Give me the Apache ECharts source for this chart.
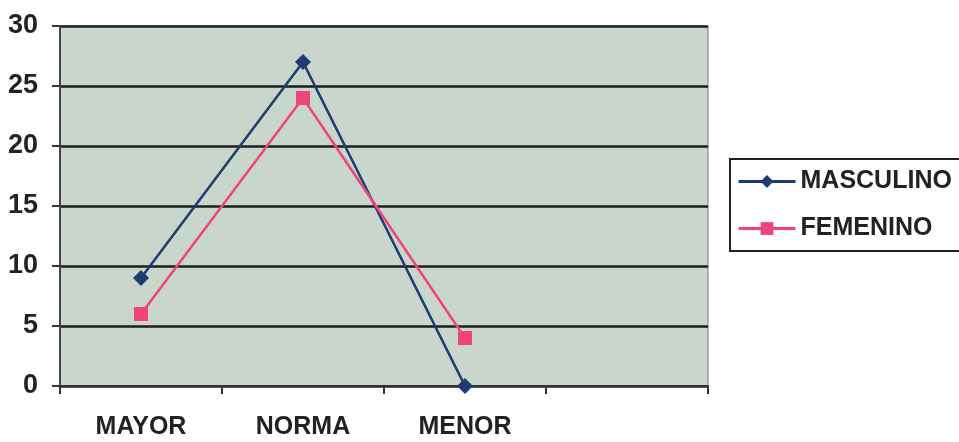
<!DOCTYPE html>
<html><head><meta charset="utf-8">
<script src="https://cdn.jsdelivr.net/npm/echarts@6/dist/echarts.min.js"></script>
<style>html,body{margin:0;padding:0;background:#fff}#c{width:959px;height:442px}</style>
</head><body><div id="c"></div>
<script>
const categories = ['MAYOR', 'NORMA', 'MENOR', ''];
const masculino = [9, 27, 0];
const femenino = [6, 24, 4];
const yTicks = [0, 5, 10, 15, 20, 25, 30];

const chart = echarts.init(document.getElementById('c'), null, {renderer: 'canvas'});
const font = 'Liberation Sans, Arial, sans-serif';
chart.setOption({
  animation: false,
  backgroundColor: '#ffffff',
  grid: {left: 60, right: 251, top: 26, bottom: 56, show: true, backgroundColor: '#c8d6cb', borderColor: '#777', borderWidth: 1},
  legend: {
    left: 730, top: 159, orient: 'vertical',
    padding: [10, 40, 10, 7], itemGap: 22,
    borderColor: '#222', borderWidth: 2,
    itemWidth: 57, itemHeight: 16,
    lineStyle: {width: 3},
    textStyle: {fontFamily: font, fontWeight: 'bold', fontSize: 25, color: '#222'},
    data: ['MASCULINO', 'FEMENINO']
  },
  xAxis: {
    type: 'category', data: categories, boundaryGap: true,
    axisLine: {lineStyle: {color: '#333', width: 2}},
    axisTick: {show: true, length: 8, lineStyle: {color: '#333', width: 2}},
    axisLabel: {margin: 29, fontFamily: font, fontWeight: 'bold', fontSize: 25, color: '#222'}
  },
  yAxis: {
    type: 'value', min: 0, max: 30, interval: 5,
    axisLine: {show: true, lineStyle: {color: '#444', width: 2}},
    axisTick: {show: true, length: 8, lineStyle: {color: '#333', width: 2}},
    splitLine: {lineStyle: {color: '#1e1e1e', width: 2.5}},
    axisLabel: {margin: 22, fontFamily: font, fontWeight: 'bold', fontSize: 27, color: '#222',
      formatter: v => yTicks.includes(v) ? String(v) : ''}
  },
  series: [
    {name: 'MASCULINO', type: 'line', data: masculino, symbol: 'diamond', symbolSize: 16,
      lineStyle: {color: '#1f3c72', width: 2.5}, itemStyle: {color: '#1f3c72'}},
    {name: 'FEMENINO', type: 'line', data: femenino, symbol: 'rect', symbolSize: 14,
      lineStyle: {color: '#f0447e', width: 2.5}, itemStyle: {color: '#f0447e'}}
  ]
});
</script></body></html>
